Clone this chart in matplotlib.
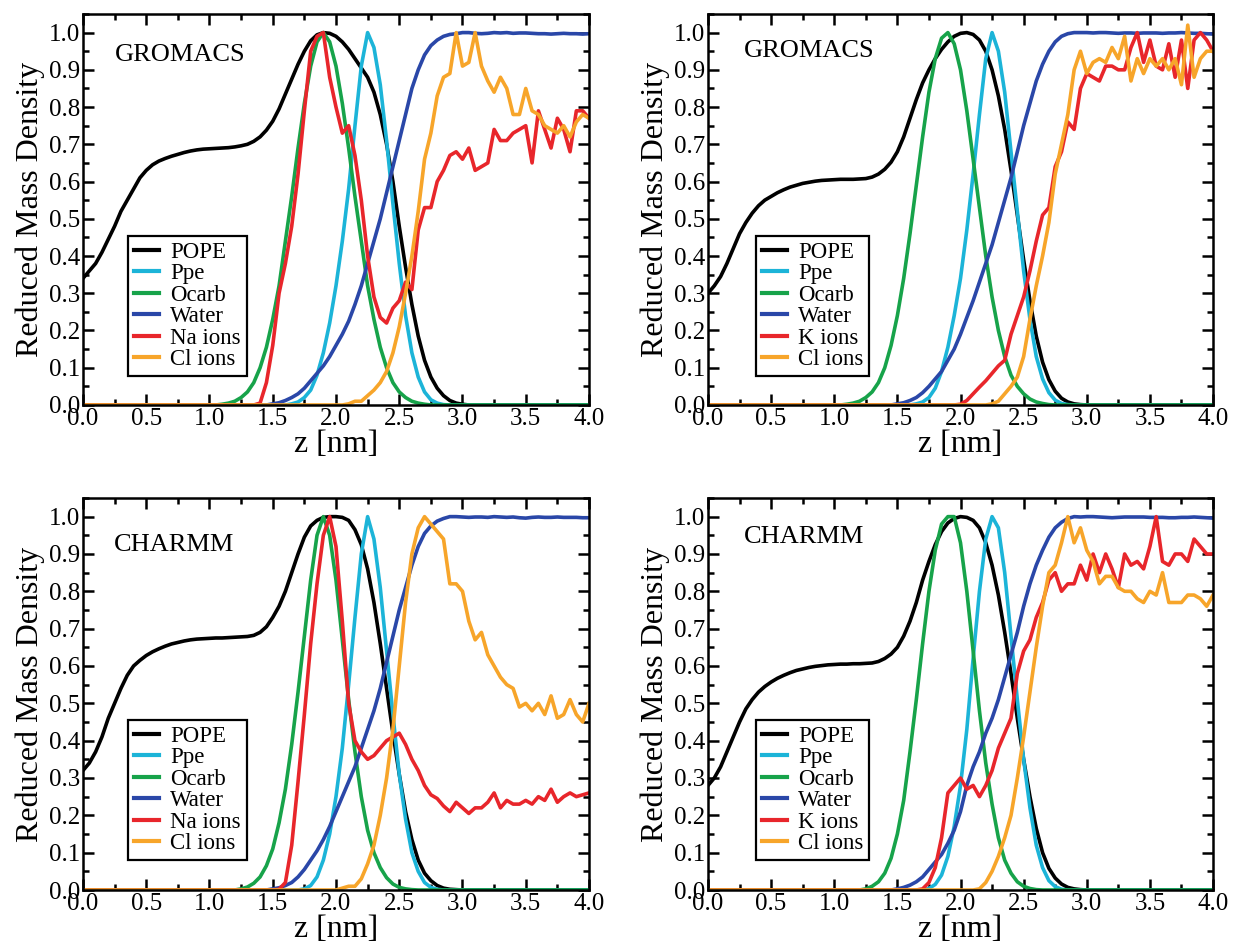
import numpy as np
import matplotlib
matplotlib.use("Agg")
import matplotlib.pyplot as plt
from matplotlib.ticker import MultipleLocator, FormatStrFormatter

plt.rcParams['font.family'] = ['Liberation Serif', 'DejaVu Serif']

# density profiles sampled every 0.05 nm from the bilayer centre
z = np.linspace(0.0, 4.0, 81)

# ---- GROMACS, NaCl ----
pope_gro_na = [0.34, 0.36, 0.38, 0.41, 0.445, 0.48, 0.52, 0.55, 0.58, 0.61,
               0.63, 0.645, 0.655, 0.662, 0.668, 0.673, 0.678, 0.682, 0.685, 0.687,
               0.688, 0.689, 0.69, 0.691, 0.693, 0.696, 0.70, 0.708, 0.72, 0.738,
               0.762, 0.795, 0.835, 0.875, 0.915, 0.95, 0.978, 0.994, 1.0, 0.998,
               0.99, 0.975, 0.955, 0.93, 0.905, 0.88, 0.84, 0.78, 0.70, 0.60,
               0.48, 0.37, 0.27, 0.185, 0.12, 0.075, 0.045, 0.025, 0.012, 0.005,
               0.002] + [0.0] * 20
ppe_gro_na = [0.0] * 33 + [0.003, 0.008, 0.02, 0.04, 0.08, 0.14, 0.22, 0.32, 0.44, 0.58,
                           0.75, 0.91, 1.0, 0.96, 0.86, 0.71, 0.54, 0.38, 0.24, 0.14,
                           0.075, 0.035, 0.014, 0.005, 0.001] + [0.0] * 23
ocarb_gro_na = [0.0] * 22 + [0.002, 0.005, 0.01, 0.02, 0.035, 0.06, 0.10, 0.155, 0.23, 0.32,
                             0.44, 0.56, 0.69, 0.81, 0.91, 0.975, 1.0, 0.975, 0.91, 0.81,
                             0.69, 0.56, 0.44, 0.32, 0.23, 0.155, 0.10, 0.06, 0.035, 0.02,
                             0.01, 0.005, 0.002] + [0.0] * 26
water_gro_na = [0.0] * 30 + [0.003, 0.006, 0.012, 0.02, 0.03, 0.045, 0.065, 0.085, 0.105, 0.13,
                             0.16, 0.19, 0.225, 0.27, 0.32, 0.38, 0.44, 0.50, 0.57, 0.64,
                             0.71, 0.78, 0.85, 0.90, 0.94, 0.965, 0.98, 0.99, 0.995, 0.997,
                             1.0, 1.0, 0.998, 0.997, 0.998, 1.0, 0.999, 1.0, 0.998, 0.999,
                             0.999, 0.998, 0.997, 0.997, 0.996, 0.997, 0.998, 0.997, 0.997, 0.996,
                             0.997]
cat_gro_na = [0.0] * 28 + [0.005, 0.06, 0.16, 0.30, 0.38, 0.48, 0.62, 0.79, 0.95, 0.99,
                           1.0, 0.88, 0.80, 0.73, 0.75, 0.67, 0.55, 0.40, 0.29, 0.235,
                           0.22, 0.26, 0.28, 0.33, 0.31, 0.47, 0.53, 0.53, 0.60, 0.63,
                           0.67, 0.68, 0.66, 0.69, 0.63, 0.64, 0.65, 0.74, 0.71, 0.71,
                           0.73, 0.74, 0.75, 0.65, 0.79, 0.74, 0.69, 0.77, 0.74, 0.68,
                           0.79, 0.79, 0.77]
cl_gro_na = [0.0] * 41 + [0.0, 0.003, 0.01, 0.01, 0.025, 0.04, 0.06, 0.09, 0.14, 0.21,
                          0.30, 0.40, 0.52, 0.66, 0.73, 0.83, 0.88, 0.89, 1.0, 0.91,
                          0.92, 1.0, 0.91, 0.87, 0.84, 0.88, 0.85, 0.78, 0.78, 0.85,
                          0.79, 0.78, 0.75, 0.74, 0.73, 0.75, 0.72, 0.76, 0.78, 0.77]

# ---- GROMACS, KCl ----
pope_gro_k = [0.30, 0.32, 0.345, 0.38, 0.42, 0.46, 0.49, 0.515, 0.535, 0.55,
              0.56, 0.57, 0.578, 0.585, 0.59, 0.595, 0.598, 0.601, 0.603, 0.604,
              0.605, 0.606, 0.606, 0.606, 0.607, 0.608, 0.612, 0.62, 0.633, 0.652,
              0.68, 0.72, 0.77, 0.82, 0.865, 0.90, 0.93, 0.955, 0.975, 0.99,
              0.998, 1.0, 0.995, 0.98, 0.95, 0.90, 0.83, 0.74, 0.63, 0.51,
              0.39, 0.28, 0.185, 0.115, 0.068, 0.037, 0.018, 0.008, 0.003, 0.001,
              0.0] + [0.0] * 20
ppe_gro_k = [0.0] * 33 + [0.003, 0.008, 0.02, 0.045, 0.09, 0.155, 0.24, 0.34, 0.47, 0.62,
                          0.78, 0.93, 1.0, 0.95, 0.84, 0.68, 0.52, 0.36, 0.23, 0.13,
                          0.07, 0.033, 0.013, 0.004, 0.001] + [0.0] * 23
ocarb_gro_k = [0.0] * 22 + [0.002, 0.005, 0.01, 0.02, 0.035, 0.06, 0.10, 0.16, 0.24, 0.34,
                            0.46, 0.59, 0.72, 0.84, 0.93, 0.985, 1.0, 0.97, 0.90, 0.79,
                            0.66, 0.53, 0.40, 0.29, 0.20, 0.13, 0.08, 0.05, 0.03, 0.016,
                            0.008, 0.004, 0.001] + [0.0] * 26
water_gro_k = [0.0] * 30 + [0.003, 0.006, 0.012, 0.02, 0.033, 0.05, 0.07, 0.09, 0.12, 0.15,
                            0.19, 0.235, 0.28, 0.33, 0.38, 0.43, 0.49, 0.55, 0.61, 0.68,
                            0.75, 0.81, 0.87, 0.915, 0.95, 0.975, 0.99, 0.997, 1.0, 1.0,
                            1.0, 0.999, 1.0, 1.0, 0.999, 0.998, 0.999, 0.999, 0.998, 0.999,
                            0.999, 0.999, 0.998, 0.999, 0.999, 1.0, 0.999, 0.998, 0.998, 0.997,
                            0.996]
cat_gro_k = [0.0] * 40 + [0.002, 0.012, 0.03, 0.048, 0.065, 0.085, 0.105, 0.12, 0.19, 0.24,
                          0.29, 0.36, 0.44, 0.51, 0.53, 0.64, 0.68, 0.76, 0.74, 0.85,
                          0.89, 0.88, 0.87, 0.91, 0.91, 0.90, 0.90, 0.96, 1.0, 0.92,
                          0.98, 0.91, 0.90, 0.97, 0.88, 0.98, 0.85, 0.98, 1.0, 0.98,
                          0.95]
cl_gro_k = [0.0] * 45 + [0.003, 0.01, 0.03, 0.05, 0.075, 0.13, 0.23, 0.32, 0.40, 0.49,
                         0.62, 0.70, 0.78, 0.90, 0.95, 0.89, 0.92, 0.93, 0.92, 0.96,
                         0.93, 0.99, 0.87, 0.93, 0.89, 0.93, 0.91, 0.93, 0.90, 0.93,
                         0.86, 1.02, 0.88, 0.93, 0.95, 0.95]

# ---- CHARMM, NaCl ----
pope_ch_na = [0.32, 0.34, 0.37, 0.41, 0.46, 0.50, 0.54, 0.575, 0.60, 0.615,
              0.628, 0.638, 0.646, 0.653, 0.659, 0.663, 0.667, 0.67, 0.672, 0.673,
              0.674, 0.675, 0.675, 0.676, 0.677, 0.678, 0.679, 0.682, 0.69, 0.705,
              0.73, 0.76, 0.80, 0.85, 0.90, 0.945, 0.975, 0.99, 0.998, 1.0,
              1.0, 0.998, 0.99, 0.965, 0.925, 0.86, 0.77, 0.66, 0.54, 0.42,
              0.31, 0.21, 0.135, 0.08, 0.045, 0.025, 0.012, 0.005, 0.002, 0.001,
              0.0] + [0.0] * 20
ppe_ch_na = [0.0] * 35 + [0.003, 0.012, 0.035, 0.08, 0.15, 0.25, 0.38, 0.55, 0.73, 0.90,
                          1.0, 0.94, 0.81, 0.64, 0.47, 0.31, 0.19, 0.10, 0.05, 0.02,
                          0.007, 0.002] + [0.0] * 24
ocarb_ch_na = [0.0] * 25 + [0.003, 0.008, 0.018, 0.035, 0.065, 0.11, 0.18, 0.27, 0.39, 0.53,
                            0.68, 0.83, 0.95, 1.0, 0.95, 0.83, 0.67, 0.51, 0.37, 0.25,
                            0.16, 0.10, 0.06, 0.033, 0.016, 0.007, 0.003, 0.001] + [0.0] * 28
water_ch_na = [0.0] * 30 + [0.003, 0.006, 0.012, 0.02, 0.035, 0.055, 0.08, 0.105, 0.135, 0.17,
                            0.21, 0.25, 0.29, 0.33, 0.38, 0.43, 0.48, 0.54, 0.61, 0.68,
                            0.75, 0.81, 0.87, 0.92, 0.955, 0.975, 0.988, 0.995, 1.0, 1.0,
                            0.999, 0.998, 0.999, 0.999, 0.998, 1.0, 0.999, 0.998, 0.999, 0.997,
                            0.996, 0.998, 0.999, 0.998, 0.998, 0.999, 0.998, 0.998, 0.998, 0.997,
                            0.997]
cat_ch_na = [0.0] * 31 + [0.002, 0.02, 0.12, 0.29, 0.47, 0.66, 0.82, 0.95, 1.0, 0.92,
                          0.72, 0.50, 0.40, 0.37, 0.35, 0.36, 0.38, 0.40, 0.41, 0.42,
                          0.39, 0.35, 0.32, 0.28, 0.255, 0.245, 0.225, 0.21, 0.235, 0.22,
                          0.205, 0.22, 0.22, 0.235, 0.26, 0.22, 0.24, 0.23, 0.23, 0.24,
                          0.23, 0.25, 0.24, 0.27, 0.235, 0.25, 0.26, 0.25, 0.255, 0.26]
cl_ch_na = [0.0] * 41 + [0.005, 0.01, 0.01, 0.03, 0.07, 0.12, 0.20, 0.30, 0.43, 0.60,
                         0.77, 0.90, 0.97, 1.0, 0.98, 0.96, 0.94, 0.82, 0.82, 0.80,
                         0.72, 0.67, 0.69, 0.63, 0.60, 0.57, 0.55, 0.54, 0.49, 0.50,
                         0.48, 0.50, 0.47, 0.52, 0.46, 0.47, 0.51, 0.47, 0.45, 0.50]

# ---- CHARMM, KCl ----
pope_ch_k = [0.28, 0.30, 0.33, 0.37, 0.41, 0.45, 0.485, 0.51, 0.53, 0.545,
             0.557, 0.567, 0.575, 0.582, 0.588, 0.592, 0.596, 0.599, 0.601, 0.603,
             0.604, 0.605, 0.605, 0.606, 0.606, 0.607, 0.608, 0.612, 0.62, 0.632,
             0.65, 0.68, 0.72, 0.77, 0.83, 0.88, 0.925, 0.96, 0.983, 0.995,
             1.0, 0.998, 0.99, 0.97, 0.93, 0.87, 0.79, 0.69, 0.58, 0.46,
             0.35, 0.25, 0.165, 0.10, 0.058, 0.032, 0.016, 0.007, 0.003, 0.001,
             0.0] + [0.0] * 20
ppe_ch_k = [0.0] * 35 + [0.004, 0.015, 0.04, 0.09, 0.17, 0.28, 0.43, 0.62, 0.80, 0.94,
                         1.0, 0.97, 0.85, 0.68, 0.51, 0.35, 0.22, 0.12, 0.06, 0.025,
                         0.009, 0.002] + [0.0] * 24
ocarb_ch_k = [0.0] * 25 + [0.003, 0.01, 0.022, 0.045, 0.085, 0.15, 0.24, 0.37, 0.51, 0.66,
                           0.80, 0.91, 0.98, 1.0, 1.0, 0.93, 0.80, 0.64, 0.48, 0.34,
                           0.23, 0.14, 0.08, 0.045, 0.022, 0.01, 0.004, 0.001] + [0.0] * 28
water_ch_k = [0.0] * 30 + [0.003, 0.007, 0.013, 0.022, 0.035, 0.055, 0.075, 0.095, 0.125, 0.16,
                           0.21, 0.28, 0.33, 0.37, 0.42, 0.46, 0.51, 0.57, 0.63, 0.69,
                           0.76, 0.82, 0.87, 0.91, 0.945, 0.97, 0.985, 0.995, 1.0, 0.999,
                           1.0, 1.0, 0.999, 0.998, 0.997, 0.998, 0.999, 0.999, 0.999, 0.999,
                           0.998, 0.998, 0.998, 0.997, 0.997, 0.998, 0.998, 0.999, 0.998, 0.997,
                           0.996]
cat_ch_k = [0.0] * 34 + [0.003, 0.02, 0.06, 0.14, 0.26, 0.28, 0.30, 0.27, 0.28, 0.25,
                         0.28, 0.32, 0.38, 0.42, 0.46, 0.58, 0.64, 0.67, 0.73, 0.77,
                         0.83, 0.85, 0.80, 0.82, 0.82, 0.87, 0.83, 0.90, 0.85, 0.90,
                         0.86, 0.81, 0.90, 0.87, 0.88, 0.86, 0.92, 1.0, 0.88, 0.87,
                         0.90, 0.90, 0.88, 0.94, 0.92, 0.90, 0.90]
cl_ch_k = [0.0] * 43 + [0.003, 0.02, 0.05, 0.09, 0.14, 0.20, 0.30, 0.41, 0.53, 0.65,
                        0.76, 0.85, 0.87, 0.93, 1.0, 0.93, 0.97, 0.91, 0.88, 0.82,
                        0.84, 0.84, 0.81, 0.80, 0.80, 0.78, 0.77, 0.80, 0.79, 0.85,
                        0.77, 0.77, 0.77, 0.79, 0.79, 0.78, 0.76, 0.79]

colors = ['#000000', '#1cb4d8', '#17a34a', '#2a47a8', '#e8262b', '#f7a52a']

panels = [
    ('GROMACS', 'Na ions', [pope_gro_na, ppe_gro_na, ocarb_gro_na, water_gro_na, cat_gro_na, cl_gro_na],
     [0.0673, 0.571, 0.4104, 0.4142], (0.25, 0.94), (0.089, 0.074)),
    ('GROMACS', 'K ions', [pope_gro_k, ppe_gro_k, ocarb_gro_k, water_gro_k, cat_gro_k, cl_gro_k],
     [0.5742, 0.571, 0.4096, 0.4142], (0.285, 0.95), (0.095, 0.074)),
    ('CHARMM', 'Na ions', [pope_ch_na, ppe_ch_na, ocarb_ch_na, water_ch_na, cat_ch_na, cl_ch_na],
     [0.0673, 0.0572, 0.4104, 0.4153], (0.245, 0.925), (0.089, 0.077)),
    ('CHARMM', 'K ions', [pope_ch_k, ppe_ch_k, ocarb_ch_k, water_ch_k, cat_ch_k, cl_ch_k],
     [0.5742, 0.0572, 0.4096, 0.4153], (0.285, 0.946), (0.095, 0.077)),
]

fig = plt.figure(figsize=(12.33, 9.44), dpi=100)

for title, cation, series, rect, txt_pos, leg_pos in panels:
    ax = fig.add_axes(rect)
    labels = ['POPE', 'Ppe', 'Ocarb', 'Water', cation, 'Cl ions']
    for vals, c, lab in zip(series, colors, labels):
        ax.plot(z, vals, color=c, lw=2.6, label=lab)

    ax.set_xlim(0.0, 4.0)
    ax.set_ylim(0.0, 1.05)
    ax.xaxis.set_major_locator(MultipleLocator(0.5))
    ax.xaxis.set_minor_locator(MultipleLocator(0.25))
    ax.yaxis.set_major_locator(MultipleLocator(0.1))
    ax.yaxis.set_minor_locator(MultipleLocator(0.05))
    ax.xaxis.set_major_formatter(FormatStrFormatter('%.1f'))
    ax.yaxis.set_major_formatter(FormatStrFormatter('%.1f'))
    ax.tick_params(which='both', direction='in', top=True, right=True, width=1.8, labelsize=18)
    ax.tick_params(which='major', length=8)
    ax.tick_params(which='minor', length=4.5)
    ax.tick_params(axis='x', pad=2)
    ax.tick_params(axis='y', pad=2)
    for sp in ax.spines.values():
        sp.set_linewidth(1.8)

    ax.set_xlabel('z [nm]', fontsize=23, labelpad=0)
    ax.set_ylabel('Reduced Mass Density', fontsize=23, labelpad=3)
    ax.text(txt_pos[0], txt_pos[1], title, fontsize=19, va='center', ha='left')

    leg = ax.legend(loc='lower left', bbox_to_anchor=leg_pos, borderaxespad=0,
                    fontsize=16.5, handlelength=1.1, handletextpad=0.5,
                    labelspacing=0.02, borderpad=0.25, fancybox=False, framealpha=1)
    leg.get_frame().set_edgecolor('black')
    leg.get_frame().set_linewidth(1.6)
    for h in leg.get_lines():
        h.set_linewidth(3.0)

fig.savefig('out.png', dpi=100)
